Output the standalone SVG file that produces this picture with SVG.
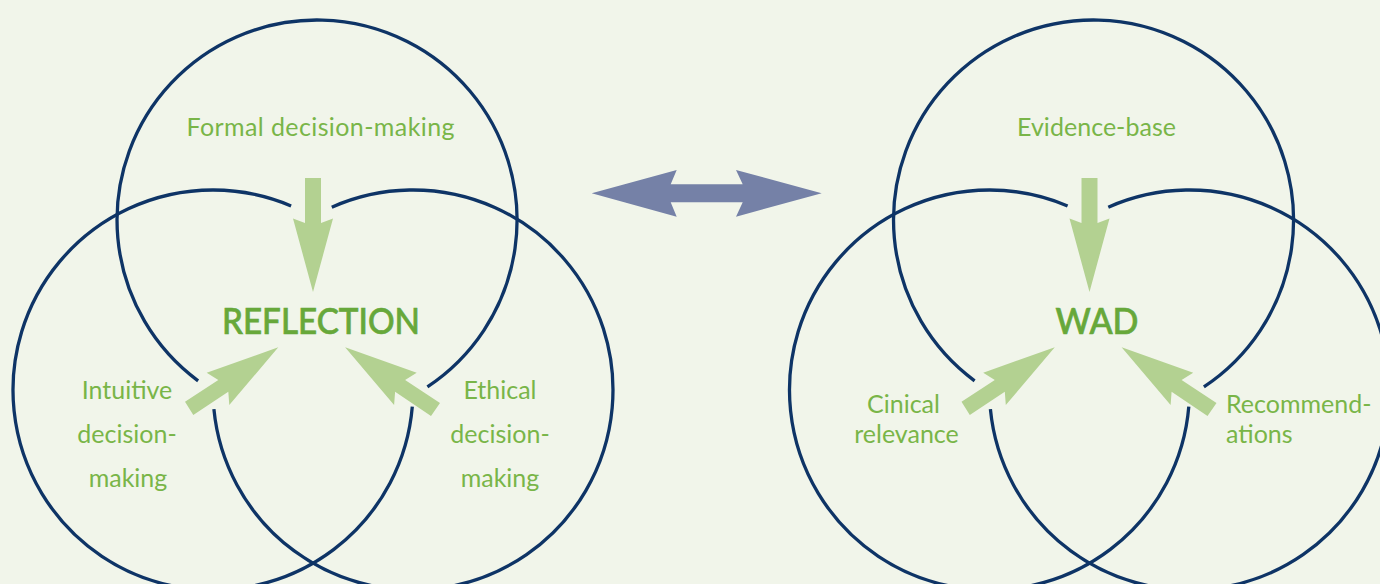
<svg xmlns="http://www.w3.org/2000/svg" width="1380" height="584" viewBox="0 0 1380 584">
<defs>
<style>
.bg{fill:#f1f5ea}
.ring{fill:none;stroke:#0e3466;stroke-width:3.3}
.garrow{fill:#b3d191}
.lbl{font-family:Lato,"Open Sans","Liberation Sans",sans-serif;font-size:25px;fill:#79b548}
.ttl{font-family:Lato,"Open Sans","Liberation Sans",sans-serif;font-size:37px;fill:#67a83a;stroke:#67a83a;stroke-width:0.7;font-weight:500}
</style>
<g id="venn-lines">
<path d="M198.1 380.8 A200 200 0 1 1 427.4 386.8"/>
<path d="M412.3 406.7 A200 200 0 1 1 291.1 205.9"/>
<path d="M331.8 207.2 A200 200 0 1 1 213.9 409.2"/>
</g>
<g id="venn-arrows">
<polygon points="305,178 321,178 321,223 333,218.5 313,292 293,218.5 305,223"/>
<polygon points="278.3,347.3 229.3,405 228.3,391.7 193.3,415 185,401.7 218.3,380 206.7,372.7"/>
<polygon points="345.1,347.3 394.1,405 395.1,391.7 431,416 440,403 405.1,380 416.7,372.7"/>
</g>
</defs>
<rect class="bg" x="0" y="0" width="1380" height="584"/>
<g id="connectors">
<polygon id="double-arrow" fill="#7581a7" points="591.7,193.3 676.7,170 670.7,184.3 742.7,184.3 736,170 821.7,193.3 736,216.7 742.7,202.3 670.7,202.3 676.7,216.7"/>
</g>
<g id="reflection-diagram">
<use href="#venn-lines" class="ring"/>
<use href="#venn-arrows" class="garrow"/>
<g id="node-formal"><text class="lbl" x="320.5" y="136" text-anchor="middle" textLength="268" lengthAdjust="spacing">Formal decision-making</text></g>
<g id="node-reflection"><text class="ttl" x="321" y="334" text-anchor="middle" textLength="198" lengthAdjust="spacingAndGlyphs">REFLECTION</text></g>
<g id="node-intuitive"><text class="lbl" text-anchor="middle"><tspan x="127" y="399">Intuitive</tspan><tspan x="127" y="443">decision-</tspan><tspan x="128" y="487">making</tspan></text></g>
<g id="node-ethical"><text class="lbl" text-anchor="middle"><tspan x="500" y="399">Ethical</tspan><tspan x="500" y="443">decision-</tspan><tspan x="500" y="487">making</tspan></text></g>
</g>
<g id="wad-diagram">
<g transform="translate(776.5,0)">
<use href="#venn-lines" class="ring"/>
<use href="#venn-arrows" class="garrow"/>
</g>
<g id="node-evidence"><text class="lbl" x="1096.5" y="136" text-anchor="middle" textLength="159" lengthAdjust="spacing">Evidence-base</text></g>
<g id="node-wad"><text class="ttl" x="1097" y="334" text-anchor="middle" textLength="83" lengthAdjust="spacingAndGlyphs">WAD</text></g>
<g id="node-clinical"><text class="lbl" text-anchor="middle"><tspan x="903.5" y="413">Cinical</tspan><tspan x="906.5" y="443">relevance</tspan></text></g>
<g id="node-recommendations"><text class="lbl"><tspan x="1226" y="413">Recommend-</tspan><tspan x="1226" y="443">ations</tspan></text></g>
</g>
</svg>
